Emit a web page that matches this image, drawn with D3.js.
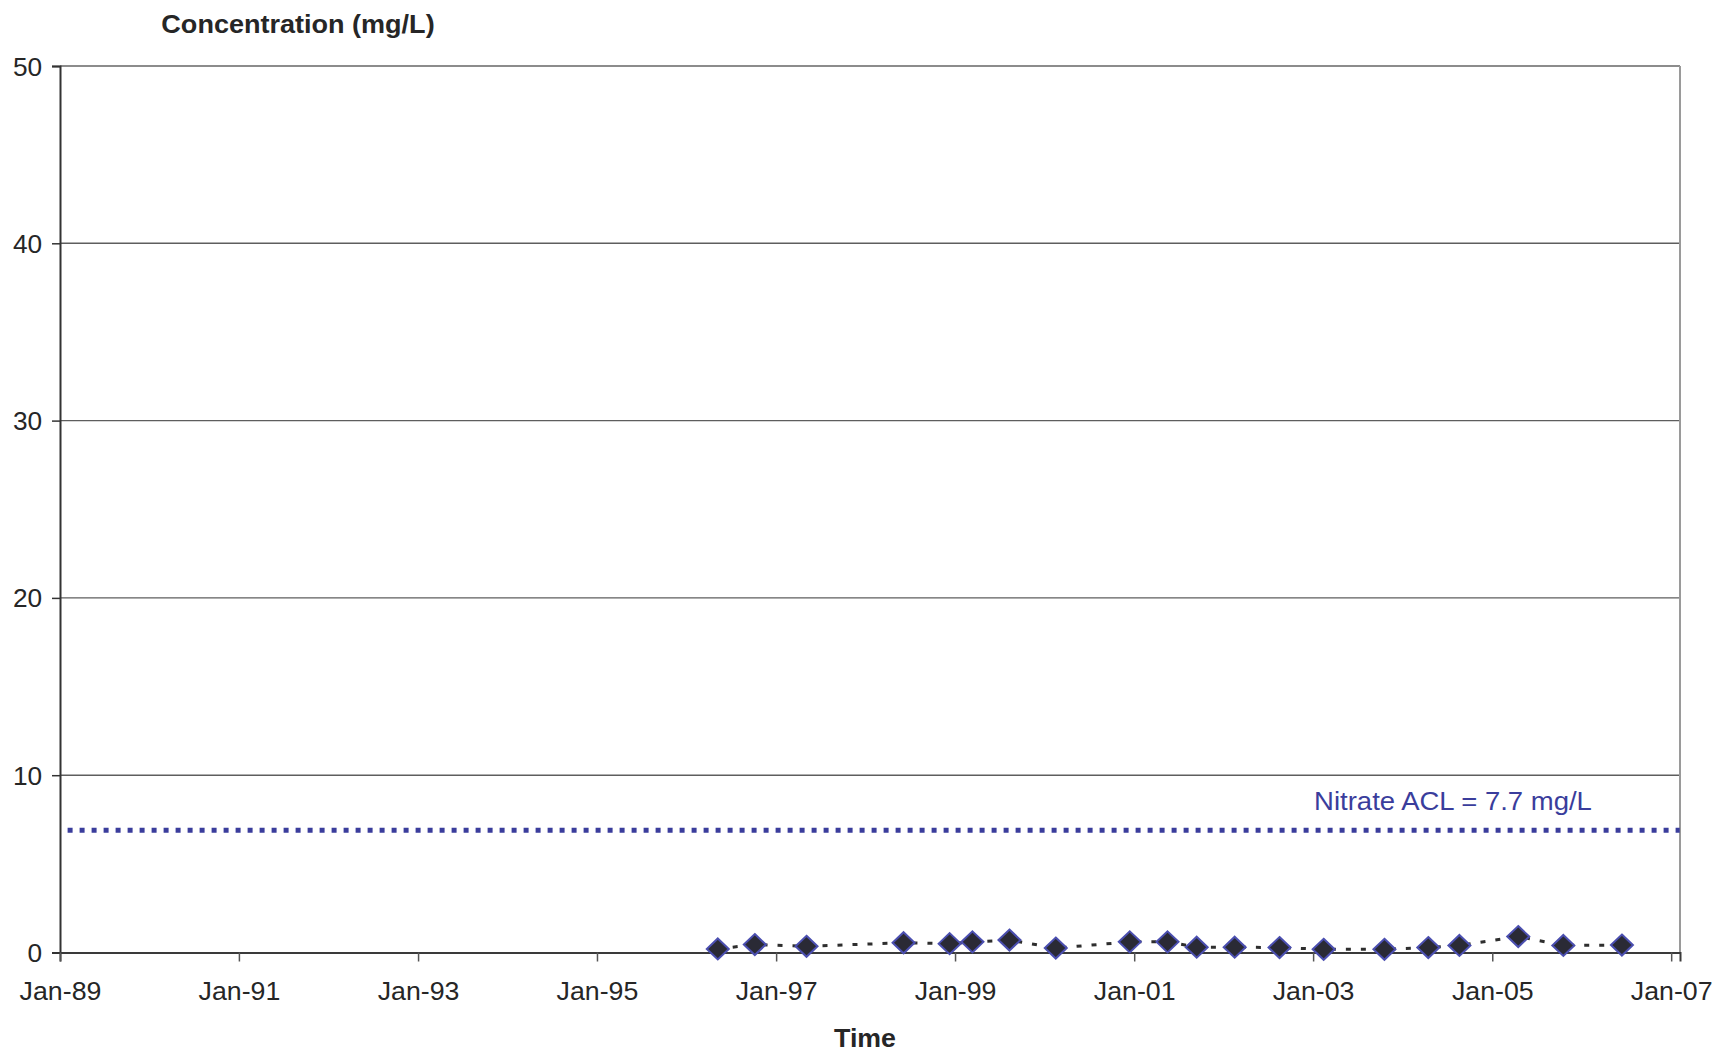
<!DOCTYPE html>
<html>
<head>
<meta charset="utf-8">
<script src="https://cdn.jsdelivr.net/npm/d3@7"></script>
<style>
  html, body { margin: 0; padding: 0; background: #ffffff; }
  svg { display: block; }
  text { font-family: "Liberation Sans", Arial, sans-serif; fill: #262626; }
</style>
</head>
<body>
<svg id="chart" width="1721" height="1055"></svg>
<script>
// ---- data ----
const sampleDates = ["1996-05-08","1996-10-06","1997-05-05","1998-06-05","1998-12-10",
  "1999-03-13","1999-08-11","2000-02-16","2000-12-14","2001-05-17","2001-09-13",
  "2002-02-15","2002-08-17","2003-02-13","2003-10-19","2004-04-15","2004-08-20",
  "2005-04-17","2005-10-18","2006-06-14"];
const nitrateValues = [0.2, 0.45, 0.35, 0.55, 0.5, 0.6, 0.7, 0.25, 0.6, 0.6, 0.3,
  0.3, 0.28, 0.18, 0.18, 0.28, 0.4, 0.9, 0.4, 0.42];
const aclDates = ["1989-02-01", "2007-02-05"];
const aclValues = [6.9, 6.9];
const aclLabel = "Nitrate ACL = 7.7 mg/L";
const xTickDates = ["1989-01-01","1991-01-01","1993-01-01","1995-01-01","1997-01-01",
  "1999-01-01","2001-01-01","2003-01-01","2005-01-01","2007-01-01"];
const yTickValues = [0, 10, 20, 30, 40, 50];
const xDomain = ["1989-01-01", "2007-02-06"];
const yDomain = [0, 50];
const yTitle = "Concentration (mg/L)";
const xTitle = "Time";

// ---- layout ----
const parse = d3.timeParse("%Y-%m-%d");
const fmt = d3.timeFormat("%b-%y");
const plotLeft = 60, plotRight = 1680, plotTop = 66, plotBottom = 952.5;

const svg = d3.select("#chart");
const x = d3.scaleTime().domain(xDomain.map(parse)).range([plotLeft, plotRight]);
const y = d3.scaleLinear().domain(yDomain).range([plotBottom, plotTop]);

// gridlines
svg.append("g").selectAll("line").data(yTickValues.filter(v => v > 0)).join("line")
  .attr("x1", plotLeft).attr("x2", plotRight)
  .attr("y1", d => y(d)).attr("y2", d => y(d))
  .attr("stroke", d => d === 50 ? "#8c8c8c" : "#5e5e5e")
  .attr("stroke-width", d => d === 50 ? 2 : 1.4);

// right border
svg.append("line").attr("x1", plotRight).attr("x2", plotRight).attr("y1", plotTop).attr("y2", plotBottom)
  .attr("stroke", "#9a9a9a").attr("stroke-width", 2);

// y axis
const yAxis = svg.append("g").attr("transform", `translate(${plotLeft},0)`)
  .call(d3.axisLeft(y).tickValues(yTickValues).tickSize(8).tickPadding(9).tickFormat(d3.format("d")));
yAxis.select(".domain").attr("stroke", "#333").attr("stroke-width", 2);
yAxis.selectAll(".tick line").attr("stroke", "#333").attr("stroke-width", 1.5);
yAxis.selectAll(".tick text").attr("font-size", 25).attr("fill", "#262626")
  .attr("font-family", "Liberation Sans, Arial, sans-serif").attr("dy", "0.36em")
  .attr("transform", "scale(1.05,1)");

// x axis
const xAxis = svg.append("g").attr("transform", `translate(0,${plotBottom})`)
  .call(d3.axisBottom(x).tickValues(xTickDates.map(parse)).tickSize(9).tickPadding(21).tickFormat(fmt));
xAxis.select(".domain").attr("stroke", "#3a3a3a").attr("stroke-width", 2);
xAxis.selectAll(".tick line").attr("stroke", "#555").attr("stroke-width", 1.5);
xAxis.selectAll(".tick text").attr("font-size", 25).attr("fill", "#262626")
  .attr("font-family", "Liberation Sans, Arial, sans-serif")
  .attr("transform", "scale(1.07,1)");

// ACL line
const aclData = aclDates.map((d, i) => ({ date: parse(d), value: aclValues[i] }));
svg.append("path").datum(aclData)
  .attr("d", d3.line().x(d => x(d.date)).y(d => y(d.value)))
  .attr("fill", "none").attr("stroke", "#3a3d9c").attr("stroke-width", 5)
  .attr("stroke-dasharray", "5,7");

svg.append("text").attr("text-anchor", "middle")
  .attr("transform", "translate(1453,810) scale(1.1,1)")
  .attr("font-size", 25).style("fill", "#3a3d9c").text(aclLabel);

// series
const series = sampleDates.map((d, i) => ({ date: parse(d), value: nitrateValues[i] }));
svg.append("path").datum(series)
  .attr("d", d3.line().x(d => x(d.date)).y(d => y(d.value)))
  .attr("fill", "none").attr("stroke", "#2e2e2e").attr("stroke-width", 3)
  .attr("stroke-dasharray", "5,10");

const diamond = "M0,-10.5L11,0L0,10.5L-11,0Z";
svg.append("g").selectAll("path").data(series).join("path")
  .attr("d", diamond)
  .attr("transform", d => `translate(${x(d.date)},${y(d.value)})`)
  .attr("fill", "#2a2a35").attr("stroke", "#4b4fb0").attr("stroke-width", 2);

// titles
svg.append("text").attr("text-anchor", "middle")
  .attr("transform", "translate(298,33) scale(1.04,1)")
  .attr("font-size", 26).attr("font-weight", "bold").text(yTitle);
svg.append("text").attr("text-anchor", "middle")
  .attr("transform", "translate(865,1047) scale(1.07,1)")
  .attr("font-size", 25).attr("font-weight", "bold").text(xTitle);
</script>
</body>
</html>
